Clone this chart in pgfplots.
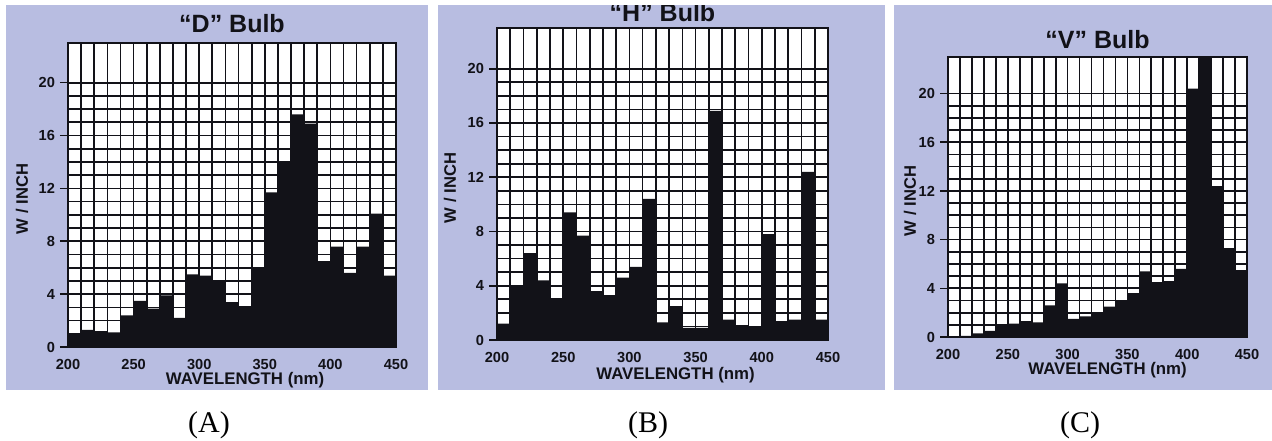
\documentclass[border=0pt]{standalone}
\usepackage{fontspec}
\setmainfont{Liberation Sans}
\newfontfamily\timesfont{Liberation Serif}
\usepackage{pgfplots}
\pgfplotsset{compat=1.18}
\definecolor{panel}{RGB}{184,189,225}
\definecolor{ink}{RGB}{18,18,24}
\pgfplotsset{bulb/.style={
  scale only axis,
  xmin=200, xmax=450, ymin=0, ymax=23,
  xtick={200,250,...,450}, ytick={0,4,...,20},
  minor x tick num=4, minor y tick num=3,
  grid=both,
  grid style={ink, line width=0.85pt},
  major grid style={ink, line width=0.85pt},
  minor grid style={ink, line width=0.85pt},
  axis line style={ink, line width=1.2pt},
  axis background/.style={fill=white},
  tick align=outside,
  ytick pos=left, xtick pos=bottom,
  major tick length=4pt, minor tick length=0pt,
  xtick style={/pgfplots/major tick length=0pt},
  ytick style={ink, line width=0.8pt},
  tick label style={font=\bfseries\fontsize{7.3}{8}\selectfont, text=ink},
  /pgf/number format/assume math mode=true,
  /pgf/number format/1000 sep={},
  xticklabel style={yshift=1.5pt},
  yticklabel style={xshift=1pt},
  clip=false,
}}
\newcommand\ttl{\bfseries\fontsize{12.5}{14}\selectfont}
\newcommand\xl{\bfseries\fontsize{8.4}{10}\selectfont}
\newcommand\yl{\bfseries\fontsize{8.3}{10}\selectfont}
\begin{document}
\begin{tikzpicture}
\useasboundingbox (0,0) rectangle (636pt,-220pt);
\fill[white] (0,0) rectangle (636pt,-220pt);
\fill[panel] (3pt,-2.5pt) rectangle (214pt,-195pt);
\fill[panel] (219pt,-2.5pt) rectangle (442.5pt,-195pt);
\fill[panel] (447pt,-2.5pt) rectangle (636pt,-195pt);

% ---------- D bulb ----------
\begin{axis}[bulb, at={(34pt,-173.5pt)}, anchor=south west, width=164pt, height=152pt]
\addplot[ybar interval, fill=ink, draw=none] coordinates {
(200,0.9) (210,1.3) (220,1.2) (230,1.1) (240,2.4) (250,3.5) (260,2.9) (270,3.9)
(280,2.2) (290,5.5) (300,5.4) (310,4.9) (320,3.4) (330,3.1) (340,6.0) (350,11.7)
(360,14.0) (370,17.6) (380,16.9) (390,6.5) (400,7.6) (410,5.6) (420,7.6) (430,10.1)
(440,5.4) (450,5.4)};
\node[font=\ttl, text=ink, anchor=base] at (rel axis cs:0.5,1) [yshift=5.5pt] {“D” Bulb};
\node[font=\xl, text=ink, anchor=north] at (rel axis cs:0.5,0) [xshift=6.5pt, yshift=-9pt] {WAVELENGTH (nm)};
\path (rel axis cs:0,0.5) ++(-23pt,-2pt) node[font=\yl, text=ink, rotate=90] {W / INCH};
\end{axis}

% ---------- H bulb ----------
\begin{axis}[bulb, at={(248.5pt,-170pt)}, anchor=south west, width=165.5pt, height=156pt]
\addplot[ybar interval, fill=ink, draw=none] coordinates {
(200,1.2) (210,3.9) (220,6.4) (230,4.4) (240,3.0) (250,9.4) (260,7.7) (270,3.6)
(280,3.3) (290,4.6) (300,5.4) (310,10.4) (320,1.3) (330,2.5) (340,0.9) (350,0.9)
(360,16.9) (370,1.5) (380,1.1) (390,1.0) (400,7.8) (410,1.4) (420,1.5) (430,12.4)
(440,1.5) (450,1.5)};
\node[font=\ttl, text=ink, anchor=base] at (rel axis cs:0.5,1) [yshift=3.5pt] {“H” Bulb};
\node[font=\xl, text=ink, anchor=north] at (rel axis cs:0.5,0) [xshift=6.5pt, yshift=-10pt] {WAVELENGTH (nm)};
\path (rel axis cs:0,0.5) ++(-23.5pt,-2pt) node[font=\yl, text=ink, rotate=90] {W / INCH};
\end{axis}

% ---------- V bulb ----------
\begin{axis}[bulb, at={(474pt,-168.5pt)}, anchor=south west, width=149.5pt, height=140pt]
\addplot[ybar interval, fill=ink, draw=none] coordinates {
(200,0.05) (210,0.1) (220,0.3) (230,0.5) (240,0.9) (250,1.1) (260,1.3) (270,1.2)
(280,2.6) (290,4.4) (300,1.5) (310,1.7) (320,1.9) (330,2.5) (340,3.0) (350,3.6)
(360,5.4) (370,4.5) (380,4.6) (390,5.6) (400,20.4) (410,23.0) (420,12.4) (430,7.3)
(440,5.5) (450,5.5)};
\node[font=\ttl, text=ink, anchor=base] at (rel axis cs:0.5,1) [yshift=4.5pt] {“V” Bulb};
\node[font=\xl, text=ink, anchor=north] at (rel axis cs:0.5,0) [xshift=5pt, yshift=-9pt] {WAVELENGTH (nm)};
\path (rel axis cs:0,0.5) ++(-19pt,-2pt) node[font=\yl, text=ink, rotate=90] {W / INCH};
\end{axis}

\fill[white] (0,0) rectangle (636pt,-2.5pt);
\node[font=\timesfont\fontsize{15}{17}\selectfont] at (104.5pt,-212.5pt) {(A)};
\node[font=\timesfont\fontsize{15}{17}\selectfont] at (324pt,-212.5pt) {(B)};
\node[font=\timesfont\fontsize{15}{17}\selectfont] at (540pt,-212.5pt) {(C)};
\end{tikzpicture}
\end{document}
